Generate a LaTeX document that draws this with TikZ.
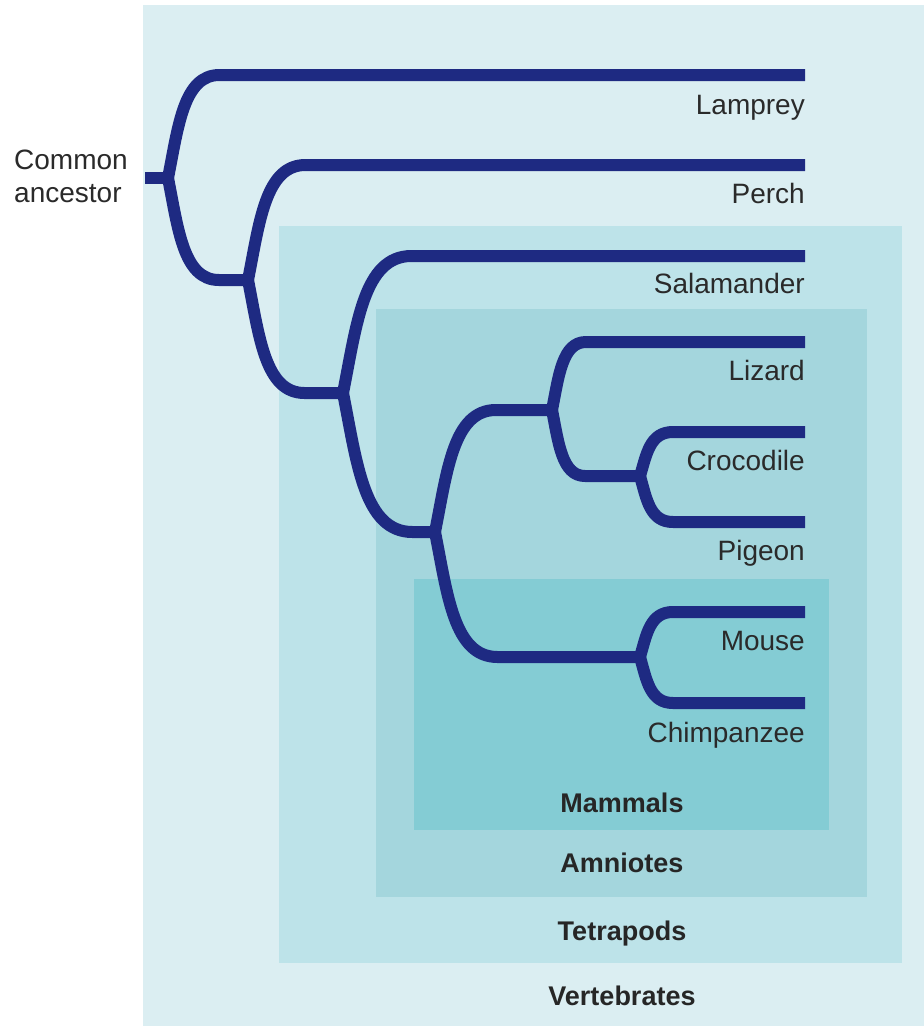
\documentclass[tikz,border=0pt]{standalone}
\usepackage{fontspec}
\setmainfont{Liberation Sans}
\usetikzlibrary{calc}
\definecolor{vertbg}{HTML}{DBEEF2}
\definecolor{tetrabg}{HTML}{BDE3E9}
\definecolor{amniobg}{HTML}{A4D6DD}
\definecolor{mammbg}{HTML}{84CCD4}
\definecolor{treeblue}{HTML}{1E2A82}
\definecolor{labeltext}{HTML}{2A2A2A}
\begin{document}
\begin{tikzpicture}[x=1pt,y=-1pt,
  % a branch leaves its parent almost vertically and bends smoothly
  % into the horizontal line that runs to the child
  branch/.style={line width=12pt, draw=treeblue, line join=round,
    to path={let \p1=(\tikztostart), \p2=(\tikztotarget),
      \n1={max(abs(\y2-\y1),66)} in
      .. controls (\x1+0.1*\n1, {(\y1+\y2)/2}) and (\x1+0.15*\n1, \y2)
      .. (\x1+0.5*\n1, \y2) -- (\p2)}},
  stem/.style={line width=12pt, draw=treeblue},
  taxon/.style={anchor=base east, inner sep=0pt, text=labeltext,
    font=\fontsize{28}{33}\selectfont},
  clade/.style={anchor=base, inner sep=0pt, text=black!85,
    font=\fontsize{27}{33}\selectfont\bfseries},
]
\useasboundingbox (0,0) rectangle (924,1026);
\fill[white] (0,0) rectangle (924,1026);

% nested clade regions
\fill[vertbg]  (143,5)   rectangle (924,1026);
\fill[tetrabg] (279,226) rectangle (902,963);
\fill[amniobg] (376,309) rectangle (867,897);
\fill[mammbg]  (414,579) rectangle (829,830);

% internal nodes of the tree
\coordinate (base) at (145,178);
\coordinate (root) at (168,178);
\coordinate (nA) at (248,280);
\coordinate (nB) at (343,393);
\coordinate (nC) at (435,532);
\coordinate (nD) at (552,410);
\coordinate (nE) at (640,476);
\coordinate (nF) at (640,657);

% tips
\coordinate (lamprey)    at (805,75);
\coordinate (perch)      at (805,165);
\coordinate (salamander) at (805,256);
\coordinate (lizard)     at (805,342);
\coordinate (crocodile)  at (805,432);
\coordinate (pigeon)     at (805,522);
\coordinate (mouse)      at (805,612);
\coordinate (chimp)      at (805,703);

% branches
\draw[stem] (base) -- (root);
\draw[branch] (root) to (lamprey);
\draw[branch] (root) to (nA);
\draw[branch] (nA) to (perch);
\draw[branch] (nA) to (nB);
\draw[branch] (nB) to (salamander);
\draw[branch] (nB) to (nC);
\draw[branch] (nC) to (nD);
\draw[branch] (nC) to (nF);
\draw[branch] (nD) to (lizard);
\draw[branch] (nD) to (nE);
\draw[branch] (nE) to (crocodile);
\draw[branch] (nE) to (pigeon);
\draw[branch] (nF) to (mouse);
\draw[branch] (nF) to (chimp);

% taxon names
\node[taxon] (tLamprey)    at ($(lamprey)+(0,39)$)    {Lamprey};
\node[taxon] (tPerch)      at ($(perch)+(0,38)$)      {Perch};
\node[taxon] (tSalamander) at ($(salamander)+(0,37)$) {Salamander};
\node[taxon] (tLizard)     at ($(lizard)+(0,38)$)     {Lizard};
\node[taxon] (tCrocodile)  at ($(crocodile)+(0,38)$)  {Crocodile};
\node[taxon] (tPigeon)     at ($(pigeon)+(0,38)$)     {Pigeon};
\node[taxon] (tMouse)      at ($(mouse)+(0,38)$)      {Mouse};
\node[taxon] (tChimp)      at ($(chimp)+(0,39)$)      {Chimpanzee};

\node[anchor=west, inner sep=0pt, align=left, text=labeltext,
  font=\fontsize{28}{33}\selectfont] (ancestor) at (14,176) {Common\\ancestor};

% clade names
\node[clade] (cMammals)     at (622,812)  {Mammals};
\node[clade] (cAmniotes)    at (622,872)  {Amniotes};
\node[clade] (cTetrapods)   at (622,940)  {Tetrapods};
\node[clade] (cVertebrates) at (622,1005) {Vertebrates};
\end{tikzpicture}
\end{document}
